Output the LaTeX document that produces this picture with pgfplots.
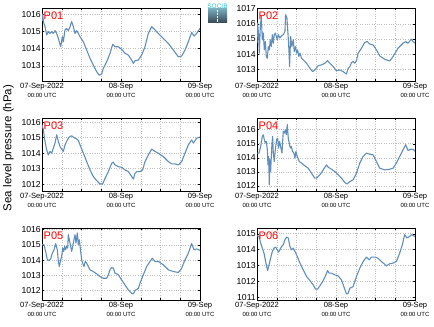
\documentclass[border=0pt]{standalone}
\usepackage{fontspec}
\setmainfont{Liberation Sans}
\usepackage{pgfplots}
\pgfplotsset{compat=1.18}
\definecolor{sline}{RGB}{96,142,188}
\definecolor{gridc}{RGB}{190,190,190}
\pgfplotsset{
 panel/.style={
  scale only axis, width=158bp, height=73bp, anchor=south west,
  xmin=0, xmax=48, xtick={0,24,48}, minor xtick={6,12,18,30,36,42},
  xticklabels={{07-Sep-2022\\\fontsize{6}{6.5}\selectfont 00:00 UTC},{08-Sep\\\fontsize{6}{6.5}\selectfont 00:00 UTC},{09-Sep\\\fontsize{6}{6.5}\selectfont 00:00 UTC}},
  xticklabel style={align=center, font=\fontsize{7.6}{9.6}\selectfont, inner sep=1.8pt},
  ytick distance=1,
  yticklabel style={font=\fontsize{8.7}{9}\selectfont, inner sep=1pt},
  grid=both, major grid style={dotted, gridc, line width=0.5pt},
  minor grid style={dotted, gridc, line width=0.5pt},
  tick align=inside, major tick length=2.2bp, minor tick length=2.2bp,
  tick style={black, line width=0.4pt},
  /pgf/number format/assume math mode=true,
  /pgf/number format/1000 sep={},
  axis line style={black, line width=0.5pt},
  every axis plot post/.append style={draw=sline, line width=1.1pt, mark=none, line join=round},
 },
}
\tikzset{plabel/.style={red, font=\fontsize{11}{11}\selectfont, anchor=north west, inner sep=0pt, xshift=1.5bp, yshift=-3.7bp}}
\begin{document}
\begin{tikzpicture}
\path[use as bounding box] (0bp,0bp) rectangle (434bp,327bp);
% P01
\begin{axis}[panel, at={(42bp,246bp)}, ymin=1012.13, ymax=1016.35]
\addplot coordinates {(0,1015.6)(0.2,1016.0)(0.5,1015.5)(0.91,1015.27)(1.42,1014.79)(1.92,1014.98)(2.43,1014.88)(2.94,1014.98)(3.44,1014.88)(3.95,1015.04)(4.46,1014.88)(4.96,1014.59)(5.67,1014.11)(6.18,1014.69)(6.48,1014.40)(6.99,1015.08)(7.49,1015.17)(8.0,1015.04)(8.51,1015.27)(9.01,1015.56)(9.52,1015.27)(10.03,1014.88)(10.53,1015.04)(11.04,1014.88)(11.54,1014.69)(12.56,1014.40)(13.57,1013.92)(14.58,1013.44)(15.59,1013.05)(16.61,1012.67)(17.32,1012.47)(18.13,1012.53)(18.63,1012.86)(19.65,1013.24)(20.66,1013.73)(21.47,1014.25)(22.18,1014.11)(23.19,1014.11)(24.2,1013.96)(25.22,1013.73)(26.23,1013.63)(27.24,1013.34)(27.75,1013.15)(28.25,1013.30)(29.27,1013.34)(30.28,1013.63)(31.29,1014.11)(32.3,1014.88)(33.32,1015.27)(34.33,1015.08)(35.34,1014.88)(36.86,1014.59)(38.38,1014.30)(39.9,1013.92)(41.42,1013.53)(42.43,1013.57)(43.44,1013.92)(44.46,1014.40)(45.47,1014.94)(46.18,1014.73)(46.99,1014.88)(48.0,1015.17)};
\node[plabel] at (rel axis cs:0,1) {P01};
\end{axis}
% P02
\begin{axis}[panel, at={(257bp,246bp)}, ymin=1012.23, ymax=1017.04]
\addplot coordinates {(0,1014.72)(0.2,1016.05)(0.51,1015.17)(0.71,1014.06)(1.01,1015.83)(1.31,1016.49)(1.62,1014.94)(1.92,1015.39)(2.22,1014.28)(2.53,1014.83)(2.83,1013.84)(3.13,1013.73)(3.44,1014.50)(3.74,1014.28)(4.04,1014.94)(4.35,1014.50)(4.65,1015.28)(4.95,1014.72)(5.25,1015.28)(5.56,1015.39)(5.86,1015.17)(6.16,1014.94)(6.47,1015.28)(6.97,1015.06)(7.48,1015.21)(7.98,1015.28)(8.49,1015.50)(8.69,1016.60)(9.09,1016.38)(9.40,1015.39)(9.70,1014.28)(9.90,1013.18)(10.21,1015.17)(10.61,1014.50)(11.01,1014.94)(11.32,1014.17)(11.72,1014.50)(12.03,1014.06)(12.33,1014.28)(12.73,1013.84)(13.04,1014.06)(13.54,1013.73)(14.05,1013.62)(14.55,1013.51)(15.06,1013.40)(16.07,1013.07)(16.88,1012.85)(17.58,1012.96)(18.59,1013.24)(19.60,1013.29)(20.61,1013.40)(21.42,1013.57)(22.13,1013.40)(23.14,1013.18)(24.15,1012.91)(25.16,1012.96)(26.17,1012.85)(27.18,1012.69)(27.69,1013.07)(28.19,1013.18)(28.70,1013.44)(29.20,1013.51)(29.71,1013.40)(30.21,1013.57)(30.72,1014.06)(31.73,1014.39)(32.74,1014.77)(33.45,1014.83)(34.26,1014.66)(35.27,1014.61)(36.28,1014.28)(37.29,1013.88)(38.80,1013.66)(40.32,1013.55)(41.33,1013.84)(42.85,1014.39)(44.36,1014.72)(45.17,1014.83)(45.88,1014.72)(46.89,1014.99)(47.39,1014.83)(48.0,1014.72)};
\node[plabel] at (rel axis cs:0,1) {P02};
\end{axis}
% P03
\begin{axis}[panel, at={(42bp,136bp)}, ymin=1011.55, ymax=1016.26]
\addplot coordinates {(0,1015.83)(0.41,1015.50)(0.91,1014.75)(1.42,1014.21)(1.92,1013.88)(2.43,1014.10)(2.94,1013.99)(3.44,1014.31)(3.95,1014.64)(4.46,1015.18)(4.96,1014.75)(5.47,1014.42)(5.97,1014.25)(6.48,1014.10)(6.99,1014.53)(7.49,1014.75)(8.0,1014.96)(8.51,1015.07)(9.01,1015.11)(9.52,1015.03)(10.03,1014.96)(10.53,1014.90)(11.04,1014.81)(11.54,1014.53)(12.56,1013.99)(13.57,1013.45)(14.58,1012.91)(15.59,1012.48)(16.61,1012.22)(17.62,1012.00)(18.43,1012.00)(19.14,1012.37)(20.15,1012.80)(21.16,1013.34)(21.67,1013.41)(22.18,1013.23)(23.19,1013.12)(24.20,1013.08)(25.22,1012.91)(26.23,1012.80)(27.24,1012.48)(27.75,1012.32)(28.25,1012.69)(28.76,1012.80)(29.77,1012.80)(30.58,1012.91)(31.29,1013.45)(32.30,1013.88)(33.32,1014.25)(34.33,1014.10)(35.34,1013.99)(36.86,1013.77)(38.38,1013.45)(39.39,1013.30)(40.41,1013.30)(41.42,1013.23)(42.43,1013.45)(43.44,1013.99)(44.46,1014.53)(45.47,1014.85)(45.97,1014.64)(46.99,1014.96)(48.0,1015.03)};
\node[plabel] at (rel axis cs:0,1) {P03};
\end{axis}
% P04
\begin{axis}[panel, at={(257bp,136bp)}, ymin=1011.64, ymax=1016.83]
\addplot coordinates {(0,1014.33)(0.61,1014.33)(1.11,1014.81)(1.62,1015.52)(1.92,1015.64)(2.22,1015.29)(2.53,1015.05)(2.83,1015.17)(3.13,1014.57)(3.33,1013.50)(3.54,1014.10)(3.74,1012.07)(3.94,1013.86)(4.14,1013.02)(4.35,1014.10)(4.55,1015.05)(4.75,1015.52)(4.95,1014.33)(5.25,1013.74)(5.56,1014.57)(5.96,1015.29)(6.27,1015.40)(6.57,1014.69)(6.87,1015.17)(7.17,1014.81)(7.58,1014.33)(7.98,1015.88)(8.29,1015.76)(8.59,1016.00)(8.89,1015.64)(9.20,1016.36)(9.50,1015.40)(9.80,1015.05)(10.11,1014.69)(10.41,1014.81)(10.81,1014.45)(11.22,1014.33)(11.52,1013.98)(11.82,1014.45)(12.23,1014.10)(12.83,1013.74)(13.54,1013.62)(14.55,1013.43)(15.56,1013.26)(16.57,1012.90)(17.58,1012.55)(18.09,1012.55)(19.10,1012.79)(20.11,1013.14)(21.12,1013.50)(21.62,1013.33)(22.64,1013.19)(23.65,1013.02)(24.66,1012.79)(25.67,1012.55)(26.68,1012.24)(27.38,1012.14)(28.19,1012.31)(29.20,1012.43)(30.21,1012.90)(31.22,1013.62)(32.24,1014.10)(33.25,1014.33)(34.26,1014.26)(35.27,1014.21)(36.28,1013.74)(37.29,1013.26)(38.80,1013.14)(40.32,1013.19)(41.33,1013.26)(42.34,1013.62)(43.35,1014.10)(44.36,1014.57)(45.17,1014.93)(45.88,1014.52)(46.89,1014.62)(47.60,1014.57)(48.0,1014.45)};
\node[plabel] at (rel axis cs:0,1) {P04};
\end{axis}
% P05
\begin{axis}[panel, height=72bp, at={(42bp,27bp)}, ymin=1011.38, ymax=1016.11]
\addplot coordinates {(0,1015.01)(0.61,1015.01)(1.11,1014.57)(1.62,1014.02)(2.13,1013.98)(2.63,1014.07)(3.14,1014.46)(3.65,1014.68)(4.15,1015.08)(4.66,1014.68)(4.96,1013.91)(5.27,1013.58)(5.67,1014.02)(5.97,1014.24)(6.28,1014.79)(6.58,1014.57)(6.89,1014.90)(7.19,1014.68)(7.49,1014.90)(7.80,1014.79)(8.0,1015.67)(8.30,1015.34)(8.71,1014.90)(9.01,1014.57)(9.32,1014.90)(9.72,1015.34)(10.03,1015.67)(10.33,1015.12)(10.73,1015.78)(11.04,1015.01)(11.34,1015.34)(11.75,1014.57)(12.05,1014.02)(12.35,1013.80)(12.76,1013.58)(13.16,1013.91)(13.57,1013.80)(14.08,1013.58)(14.58,1013.36)(15.59,1013.25)(16.61,1013.10)(17.62,1012.92)(18.63,1012.81)(19.65,1012.81)(20.15,1013.03)(20.66,1013.36)(21.16,1013.52)(21.67,1013.47)(22.18,1013.14)(22.68,1013.10)(23.19,1013.03)(24.20,1012.70)(25.22,1012.37)(26.23,1012.04)(27.24,1011.82)(27.75,1011.78)(28.25,1012.00)(29.27,1012.15)(29.77,1012.48)(30.78,1013.03)(31.80,1013.58)(32.81,1013.91)(33.52,1014.13)(34.33,1013.91)(35.34,1013.91)(36.86,1013.69)(38.38,1013.36)(39.90,1013.25)(41.42,1013.19)(42.43,1013.47)(43.44,1014.02)(44.46,1014.46)(45.47,1015.08)(46.18,1014.68)(46.99,1014.73)(48.0,1014.64)};
\node[plabel] at (rel axis cs:0,1) {P05};
\end{axis}
% P06
\begin{axis}[panel, height=72bp, at={(257bp,27bp)}, ymin=1010.83, ymax=1015.36]
\addplot coordinates {(0,1014.87)(0.61,1014.83)(1.11,1014.41)(1.62,1014.09)(2.12,1013.78)(2.63,1013.25)(2.93,1012.94)(3.23,1012.68)(3.64,1013.04)(4.14,1013.46)(4.65,1013.88)(5.15,1014.09)(5.66,1014.16)(6.16,1013.99)(6.57,1013.84)(6.97,1013.99)(7.48,1014.20)(7.98,1014.31)(8.49,1014.62)(8.99,1014.79)(9.50,1014.73)(10.00,1014.20)(10.51,1013.99)(11.01,1014.09)(11.52,1013.88)(12.03,1013.67)(13.04,1013.15)(14.05,1012.73)(15.06,1012.31)(16.07,1012.05)(17.08,1011.78)(17.79,1011.51)(18.39,1011.51)(19.10,1011.72)(20.11,1012.05)(20.92,1012.41)(21.42,1012.68)(21.93,1012.52)(22.64,1012.52)(23.65,1012.41)(24.66,1012.35)(25.67,1012.09)(26.38,1011.67)(27.18,1011.21)(27.69,1011.25)(28.19,1011.57)(29.20,1011.67)(30.21,1012.31)(31.22,1012.83)(32.24,1013.25)(33.25,1013.53)(34.06,1013.36)(34.77,1013.53)(35.78,1013.53)(36.79,1013.46)(37.80,1013.25)(39.32,1012.98)(40.32,1013.11)(41.33,1013.15)(42.34,1013.25)(43.35,1013.78)(44.16,1014.31)(44.87,1014.94)(45.57,1014.73)(46.38,1014.83)(46.89,1014.94)(48.0,1014.83)};
\node[plabel] at (rel axis cs:0,1) {P06};
\end{axis}
% y label
\node[rotate=90, font=\fontsize{11.5}{12}\selectfont] at (8.5bp,179bp) {Sea level pressure (hPa)};
% logo
\shade[top color={rgb,255:red,120;green,170;blue,185}, bottom color={rgb,255:red,55;green,70;blue,85}] (208bp,304bp) rectangle (227bp,318bp);
\draw[white, densely dotted, line width=0.5pt] (217.5bp,305bp) -- (217.5bp,317bp);
\node[font=\fontsize{6.5}{6.5}\selectfont, text={rgb,255:red,40;green,190;blue,210}, inner sep=0pt, anchor=south] at (217.5bp,318.5bp) {SOCIB};
\end{tikzpicture}
\end{document}
